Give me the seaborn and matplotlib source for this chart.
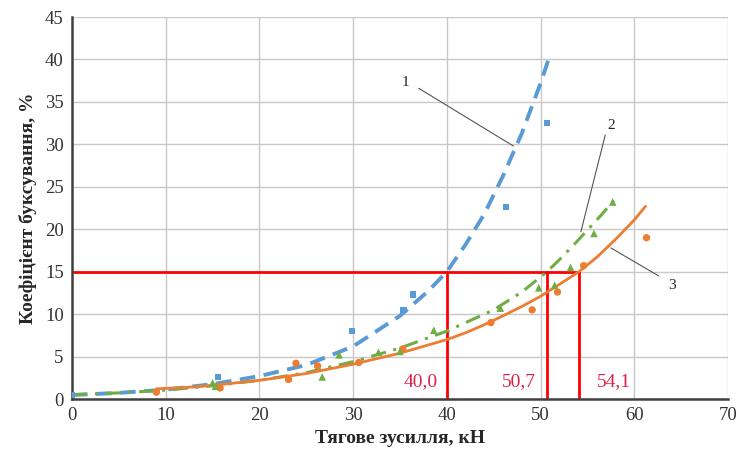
import matplotlib
matplotlib.use("Agg")
import matplotlib.pyplot as plt
import seaborn as sns
import pandas as pd

# ---- data ----
# measured points
blue_x = [0.0, 15.6, 29.9, 35.4, 36.4, 46.3, 50.7]
blue_y = [0.45, 2.6, 8.0, 10.5, 12.3, 22.6, 32.5]
orange_x = [9.0, 15.8, 23.1, 23.9, 26.2, 30.6, 35.3, 44.7, 49.1, 51.8, 54.6, 61.3]
orange_y = [0.8, 1.3, 2.3, 4.2, 3.9, 4.3, 5.9, 9.0, 10.5, 12.6, 15.7, 19.0]
green_x = [15.0, 15.3, 26.7, 28.5, 32.7, 35.0, 38.6, 45.7, 49.8, 51.5, 53.2, 55.7, 57.7]
green_y = [1.9, 1.5, 2.6, 5.2, 5.5, 5.6, 8.1, 10.7, 13.1, 13.4, 15.5, 19.5, 23.2]

# trend curves
curve1_x = [0, 5, 10, 15, 20, 25, 30, 35, 38, 40, 42, 44, 46, 48, 50, 51.0]
curve1_y = [0.47, 0.72, 1.1, 1.75, 2.7, 4.0, 6.2, 9.8, 12.7, 15.0, 18.2, 21.8, 26.3, 31.3, 37.2, 40.5]
curve2_x = [0, 5, 10, 15, 20, 25, 30, 35, 40, 45, 48, 50.7, 52, 53.5, 55, 56.5, 57.8]
curve2_y = [0.5, 0.72, 1.05, 1.55, 2.2, 3.1, 4.4, 6.0, 8.0, 10.5, 12.6, 15.0, 16.4, 18.1, 19.9, 21.7, 23.4]
curve3_x = [9, 12, 15, 20, 25, 30, 35, 40, 42, 44, 46, 48, 50, 52, 54.1, 56, 58, 60, 61.2]
curve3_y = [1.2, 1.35, 1.6, 2.2, 3.0, 4.1, 5.4, 7.0, 7.8, 8.75, 9.8, 10.9, 12.1, 13.5, 15.0, 16.7, 18.8, 21.1, 22.7]

level = 15.0
cross_x = [40.0, 50.7, 54.1]
cross_labels = ["40,0", "50,7", "54,1"]
curve_labels = ["1", "2", "3"]

x_ticks = [0, 10, 20, 30, 40, 50, 60, 70]
y_ticks = [0, 5, 10, 15, 20, 25, 30, 35, 40, 45]

BLUE = "#5B9BD5"
ORANGE = "#ED7D31"
GREEN = "#70AD47"
RED = "#FF0000"
LABEL_RED = "#E0204A"

sns.set_style("white")
plt.rcParams["font.family"] = ["Liberation Serif", "DejaVu Serif"]

fig = plt.figure(figsize=(7.41, 4.57), dpi=100)
ax = fig.add_axes([72 / 741, 1 - 399 / 457, (728 - 72) / 741, (399 - 17) / 457])

ax.set_xlim(0, 70)
ax.set_ylim(0, 45)
ax.set_xticks(x_ticks)
ax.set_yticks(y_ticks)
ax.grid(True, color="#c8c8c8", linewidth=1.0)
ax.set_axisbelow(True)
for s in ["top", "right"]:
    ax.spines[s].set_visible(False)
for s in ["left", "bottom"]:
    ax.spines[s].set_color("#404040")
    ax.spines[s].set_linewidth(1.8)
ax.tick_params(axis="both", length=0, labelsize=13.5, pad=6, colors="#333333")

# red construction lines
ax.plot([0, cross_x[-1]], [level, level], color=RED, lw=2, zorder=2)
for cx in cross_x:
    ax.plot([cx, cx], [0, level], color=RED, lw=2, zorder=2)

# trend curves
c1 = pd.DataFrame({"x": curve1_x, "y": curve1_y})
c2 = pd.DataFrame({"x": curve2_x, "y": curve2_y})
c3 = pd.DataFrame({"x": curve3_x, "y": curve3_y})
sns.lineplot(data=c1, x="x", y="y", ax=ax, color=BLUE, lw=2.8, sort=False,
             zorder=4).lines[-1].set_dashes([4, 2.2])
sns.lineplot(data=c2, x="x", y="y", ax=ax, color=GREEN, lw=2.2, sort=False,
             zorder=4).lines[-1].set_dashes([5, 2.5, 1, 2.5])
sns.lineplot(data=c3, x="x", y="y", ax=ax, color=ORANGE, lw=2.0, sort=False, zorder=4)

# measured points
sns.scatterplot(x=blue_x, y=blue_y, ax=ax, color=BLUE, marker="s", s=22,
                edgecolor="none", zorder=5)
sns.scatterplot(x=orange_x, y=orange_y, ax=ax, color=ORANGE, marker="o", s=28,
                edgecolor="none", zorder=5)
sns.scatterplot(x=green_x, y=green_y, ax=ax, color=GREEN, marker="^", s=30,
                edgecolor="none", zorder=5)

# crossing labels
ax.text(39.0, 2.1, cross_labels[0], color=LABEL_RED, fontsize=14, ha="right", va="center")
ax.text(49.5, 2.1, cross_labels[1], color=LABEL_RED, fontsize=14, ha="right", va="center")
ax.text(59.7, 2.1, cross_labels[2], color=LABEL_RED, fontsize=14, ha="right", va="center")

# curve number labels with leaders
lead = "#555555"
ax.text(35.6, 37.3, curve_labels[0], fontsize=11, ha="center", va="center", color="#222222")
ax.plot([37.0, 47.1], [36.6, 29.8], color=lead, lw=0.8, zorder=6)
ax.text(57.5, 32.2, curve_labels[1], fontsize=11, ha="center", va="center", color="#222222")
ax.plot([56.9, 54.3], [31.1, 19.7], color=lead, lw=0.8, zorder=6)
ax.text(64.0, 13.4, curve_labels[2], fontsize=11, ha="center", va="center", color="#222222")
ax.plot([57.5, 62.6], [17.8, 14.5], color=lead, lw=0.8, zorder=6)

ax.set_xlabel("Тягове зусилля, кН", fontsize=14, fontweight="bold", labelpad=4)
ax.set_ylabel("Коефіцієнт буксування, %", fontsize=14, fontweight="bold", labelpad=6)

fig.savefig("out.png", dpi=100)
